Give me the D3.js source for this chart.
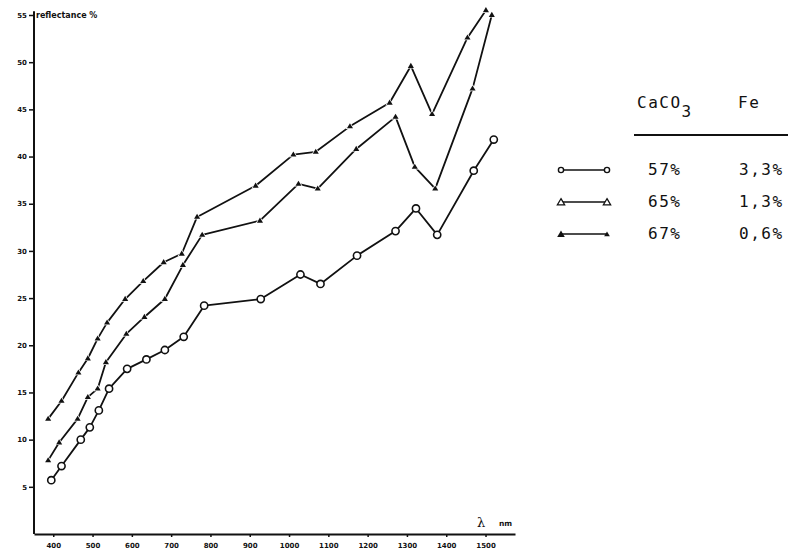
<!DOCTYPE html>
<html>
<head>
<meta charset="utf-8">
<script src="https://cdn.jsdelivr.net/npm/d3@7"></script>
<style>
  body { margin: 0; background: #fff; }
  svg { display: block; }
</style>
</head>
<body>
<script>
// wavelength (nm) and reflectance (%)
const nm57 = [395, 421, 470, 493, 516, 542, 588, 637, 684, 732, 784, 928, 1029, 1080, 1173, 1271, 1323, 1377, 1470, 1521];
const refl57 = [5.7, 7.2, 10.0, 11.3, 13.1, 15.4, 17.5, 18.5, 19.5, 20.9, 24.2, 24.9, 27.5, 26.5, 29.5, 32.1, 34.5, 31.7, 38.5, 41.8];

const nm65 = [387, 415, 462, 488, 513, 534, 586, 632, 684, 730, 779, 926, 1024, 1073, 1171, 1271, 1320, 1372, 1467, 1516];
const refl65 = [7.8, 9.7, 12.2, 14.5, 15.4, 18.2, 21.2, 23.0, 24.9, 28.5, 31.7, 33.2, 37.1, 36.6, 40.8, 44.2, 38.9, 36.6, 47.2, 55.0];

const nm67 = [387, 421, 464, 488, 513, 537, 583, 629, 681, 727, 766, 915, 1011, 1068, 1155, 1256, 1310, 1364, 1454, 1501];
const refl67 = [12.2, 14.1, 17.1, 18.6, 20.7, 22.4, 24.9, 26.8, 28.8, 29.7, 33.6, 36.9, 40.2, 40.5, 43.2, 45.7, 49.6, 44.5, 52.6, 55.5];

const xTicks = [400, 500, 600, 700, 800, 900, 1000, 1100, 1200, 1300, 1400, 1500];
const yTicks = [5, 10, 15, 20, 25, 30, 35, 40, 45, 50, 55];

const legendCaCO3 = ["57%", "65%", "67%"];
const legendFe = ["3,3%", "1,3%", "0,6%"];
const legendMarker = ["circle", "openTri", "fillTri"];

const width = 788;
const height = 551;
const ink = "#111";

const xScale = d3.scaleLinear().domain([351, 1575]).range([34, 515]);
const yScale = d3.scaleLinear().domain([0, 55]).range([534, 15]);

const svg = d3
  .create("svg")
  .attr("width", width)
  .attr("height", height)
  .attr("viewBox", [0, 0, width, height]);

// axes
const xAxis = d3.axisBottom(xScale).tickValues(xTicks).tickFormat(d3.format("d"))
  .tickSize(3).tickPadding(6).tickSizeOuter(0);
const yAxis = d3.axisLeft(yScale).tickValues(yTicks).tickSize(5).tickPadding(2).tickSizeOuter(0);

const gx = svg.append("g").attr("transform", `translate(0,${yScale(0)})`).call(xAxis);
const gy = svg.append("g").attr("transform", `translate(${xScale(351)},0)`).call(yAxis);

[gx, gy].forEach((g) => {
  g.select(".domain").attr("stroke", ink).attr("stroke-width", 2);
  g.selectAll(".tick line").attr("stroke", ink).attr("stroke-width", 1.5);
  g.selectAll(".tick text")
    .attr("fill", ink)
    .style("font-family", "DejaVu Sans")
    .style("font-weight", "bold")
    .style("font-size", "7px");
});
gy.select(".domain").attr("d", `M0,${yScale(0)}V${yScale(55.4)}`);

svg.append("text")
  .attr("x", 36)
  .attr("y", 18)
  .attr("fill", ink)
  .style("font-family", "DejaVu Sans")
  .style("font-weight", "bold")
  .style("font-size", "8px")
  .text("reflectance %");

svg.append("text")
  .attr("x", 477)
  .attr("y", 527)
  .attr("fill", ink)
  .style("font-family", "DejaVu Serif")
  .style("font-size", "13px")
  .text("λ");
svg.append("text")
  .attr("x", 499)
  .attr("y", 526)
  .attr("fill", ink)
  .style("font-family", "DejaVu Sans")
  .style("font-weight", "bold")
  .style("font-size", "7.5px")
  .text("nm");

// markers
function triPath(cx, cy, s) {
  return `M${cx},${cy - s}L${cx + s * 0.95},${cy + s * 0.6}L${cx - s * 0.95},${cy + s * 0.6}Z`;
}

const series = [
  { X: nm57, Y: refl57, marker: "circle" },
  { X: nm65, Y: refl65, marker: "openTri" },
  { X: nm67, Y: refl67, marker: "fillTri" },
];

const line = d3.line().x((d) => xScale(d[0])).y((d) => yScale(d[1]));

series.forEach((s) => {
  const pts = d3.zip(s.X, s.Y);
  svg.append("path")
    .attr("d", line(pts))
    .attr("fill", "none")
    .attr("stroke", ink)
    .attr("stroke-width", 1.8)
    .attr("stroke-linejoin", "round");

  const g = svg.append("g");
  if (s.marker === "circle") {
    g.selectAll("circle")
      .data(pts)
      .join("circle")
      .attr("cx", (d) => xScale(d[0]))
      .attr("cy", (d) => yScale(d[1]))
      .attr("r", 3.6)
      .attr("fill", "#fff")
      .attr("stroke", ink)
      .attr("stroke-width", 1.6);
  } else {
    g.selectAll("path")
      .data(pts)
      .join("path")
      .attr("d", (d) => triPath(xScale(d[0]), yScale(d[1]), 3.2))
      .attr("fill", ink)
      .attr("stroke", "#fff")
      .attr("stroke-width", 1.4)
      .attr("paint-order", "stroke");
  }
});

// legend table
const font = "DejaVu Sans Mono";
const lg = svg.append("g")
  .style("font-family", font)
  .style("font-size", "16px")
  .style("letter-spacing", "1.5px")
  .attr("fill", ink);

const head = lg.append("text").attr("x", 637).attr("y", 108);
head.append("tspan").text("CaCO");
head.append("tspan").attr("dy", 9).attr("dx", 0).text("3");
lg.append("text").attr("x", 738).attr("y", 108).text("Fe");

lg.append("line")
  .attr("x1", 634).attr("x2", 788)
  .attr("y1", 135).attr("y2", 135)
  .attr("stroke", ink).attr("stroke-width", 1.8);

const rowY = [170, 202, 234];
legendCaCO3.forEach((v, i) => {
  const y = rowY[i];
  lg.append("text").attr("x", 648).attr("y", y + 5).text(v);
  lg.append("text").attr("x", 739).attr("y", y + 5).text(legendFe[i]);

  lg.append("line")
    .attr("x1", 561).attr("x2", 607)
    .attr("y1", y).attr("y2", y)
    .attr("stroke", ink).attr("stroke-width", 1.3);

  [561, 607].forEach((cx, k) => {
    if (legendMarker[i] === "circle") {
      lg.append("circle")
        .attr("cx", cx).attr("cy", y).attr("r", 2.6)
        .attr("fill", "#fff").attr("stroke", ink).attr("stroke-width", 1.4);
    } else if (legendMarker[i] === "openTri") {
      lg.append("path")
        .attr("d", triPath(cx, y + 0.5, 3.8))
        .attr("fill", "#fff").attr("stroke", ink).attr("stroke-width", 1.3);
    } else {
      lg.append("path")
        .attr("d", triPath(cx, y + 0.5, k === 0 ? 4 : 3))
        .attr("fill", ink);
    }
  });
});

document.body.appendChild(svg.node());
</script>
</body>
</html>
